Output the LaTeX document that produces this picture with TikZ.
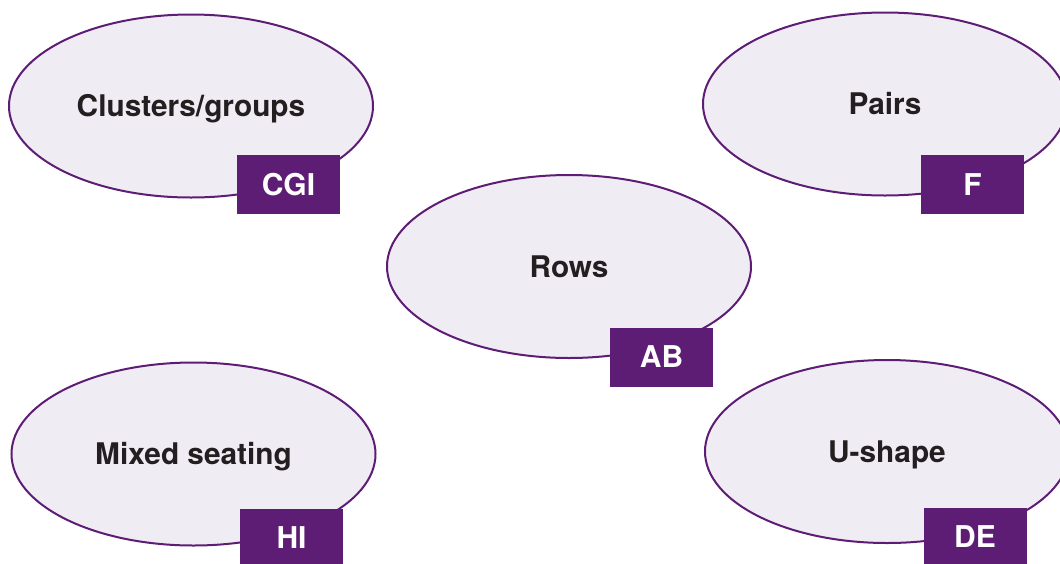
\documentclass[tikz,border=0pt]{standalone}
\usepackage{fontspec}
\setmainfont{TeX Gyre Heros}
\usetikzlibrary{shapes.geometric}
\definecolor{ovalfill}{HTML}{EFECF4}
\definecolor{purp}{HTML}{5E1D74}
\definecolor{txt}{HTML}{231F20}
\begin{document}
\begin{tikzpicture}[x=1pt,y=-1pt,
  oval/.style={ellipse, draw=purp, fill=ovalfill, line width=2pt,
    minimum width=364pt, minimum height=183pt, inner sep=0pt,
    text height=21.5pt, text depth=0pt,
    font=\fontsize{29.8}{34}\selectfont\bfseries, text=txt},
  tag/.style={rectangle, fill=purp, minimum width=103pt, minimum height=59pt,
    inner sep=0pt, text height=21.5pt, text depth=0pt,
    font=\fontsize{30}{34}\selectfont\bfseries, text=white}]
\useasboundingbox (0,0) rectangle (1060,563);
\node[oval] (clusters) at (191,106) {Clusters/groups};
\node[tag] (cgi) at (288.5,184.5) {CGI};
\node[oval] (pairs) at (885,104) {Pairs};
\node[tag] (f) at (972.5,184.5) {F};
\node[oval] (rows) at (569,266.5) {Rows};
\node[tag] (ab) at (661.5,357) {AB};
\node[oval] (mixed) at (193.5,454) {Mixed seating};
\node[tag] (hi) at (291.5,538) {HI};
\node[oval] (ushape) at (887,451.5) {U-shape};
\node[tag] (de) at (975,537) {DE};
\end{tikzpicture}
\end{document}
